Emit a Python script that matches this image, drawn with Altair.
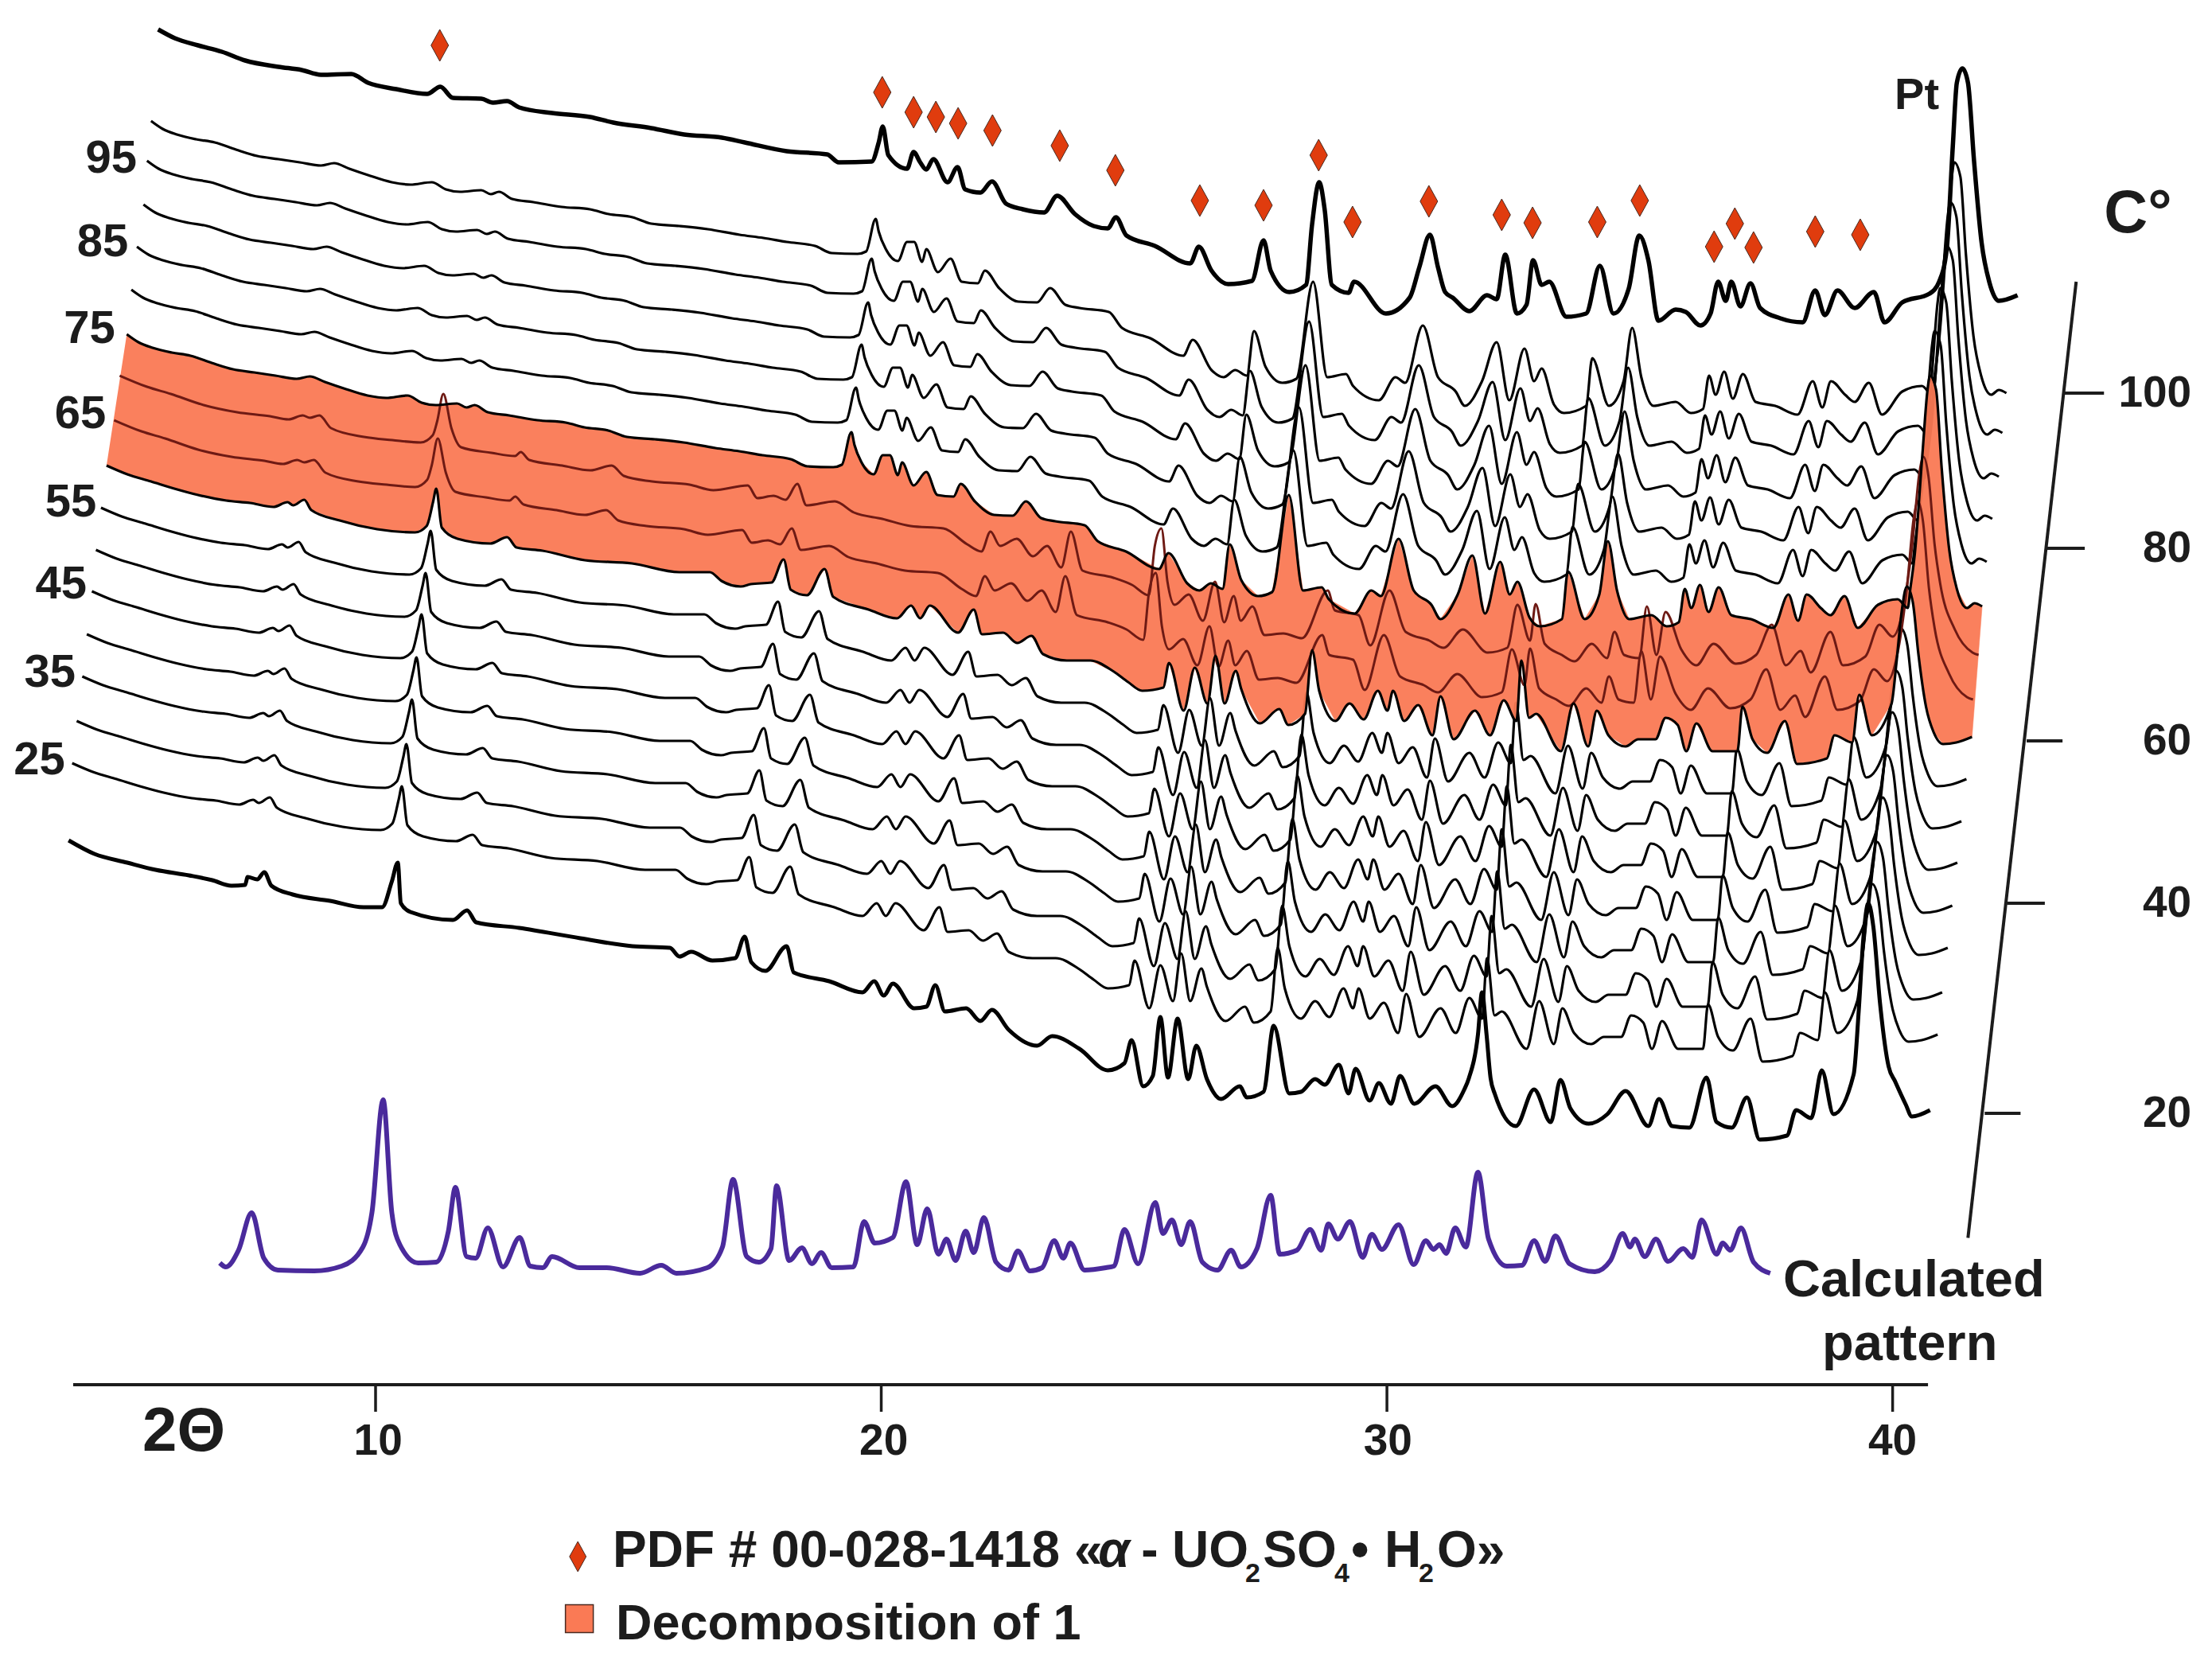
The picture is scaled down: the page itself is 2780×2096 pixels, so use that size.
import pandas as pd
import altair as alt

# Waterfall of powder patterns: x is 2-theta, y is intensity with the stacking offset already in it

# top pattern (bold)
top_theta = [5.70,6.03,6.49,6.96,7.42,8.08,8.54,8.92,9.52,9.85,10.41,11.02,11.28,11.53,12.09,12.32,12.60,12.84,13.49,14.24,14.70,15.45,16.10,16.85,17.30,18.13,18.93,19.16,19.81,19.95,20.03,20.14,20.51,20.64,20.77,20.89,21.03,21.31,21.51,21.66,21.96,22.19,22.47,22.80,23.22,23.48,23.83,24.20,24.48,24.64,24.85,25.41,26.11,26.28,26.53,26.86,27.33,27.56,27.70,28.07,28.40,28.52,28.66,28.77,28.91,29.24,29.35,29.98,30.45,30.64,30.85,31.01,31.15,31.30,31.63,31.98,32.17,32.34,32.57,32.76,32.89,33.06,33.21,33.55,33.94,34.21,34.48,34.78,34.99,35.17,35.37,35.71,35.91,36.20,36.40,36.55,36.70,36.81,36.99,37.19,37.38,37.78,38.22,38.47,38.66,38.91,39.25,39.63,39.84,40.19,40.73,40.92,41.07,41.19,41.27,41.38,41.49,41.61,41.76,41.91,42.10,42.47]
top_height = [1703,1692,1683,1675,1664,1656,1652,1646,1647,1636,1628,1622,1631,1617,1616,1611,1613,1605,1598,1593,1586,1579,1571,1567,1561,1550,1546,1536,1537,1561,1581,1545,1528,1549,1536,1527,1540,1511,1530,1502,1498,1512,1484,1477,1473,1494,1471,1456,1453,1467,1444,1431,1409,1430,1400,1383,1387,1438,1400,1373,1382,1458,1511,1476,1382,1372,1386,1346,1366,1404,1445,1404,1373,1366,1349,1369,1364,1420,1346,1357,1413,1382,1386,1342,1346,1406,1346,1377,1444,1413,1337,1351,1348,1331,1346,1386,1362,1386,1355,1384,1353,1340,1335,1375,1344,1375,1353,1373,1335,1360,1371,1386,1427,1556,1636,1654,1636,1538,1435,1386,1362,1369]

# high temperature shape
high_theta = [5.56,5.79,6.07,6.45,6.82,7.24,7.66,8.08,8.50,8.92,9.18,9.48,9.85,10.32,10.69,11.11,11.39,11.67,12.09,12.28,12.44,12.70,13.12,13.68,14.24,14.61,15.08,15.45,16.01,16.57,17.20,17.67,18.13,18.69,19.02,19.53,19.70,19.89,19.95,20.09,20.33,20.51,20.65,20.81,20.89,21.12,21.37,21.59,21.91,22.05,22.33,22.71,23.08,23.34,23.64,23.92,24.50,24.76,25.32,25.97,26.16,26.53,26.77,27.00,27.23,27.37,27.60,27.93,28.21,28.54,28.82,29.19,29.33,29.84,30.17,30.36,30.71,31.01,31.36,31.54,31.88,32.17,32.42,32.72,32.91,33.06,33.30,33.50,33.94,34.06,34.39,34.68,34.85,35.03,35.27,35.71,36.01,36.25,36.37,36.50,36.67,36.84,37.04,37.29,37.68,38.12,38.42,38.61,38.78,39.06,39.25,39.53,39.79,40.19,40.58,40.78,40.83,40.92,41.07,41.17,41.22,41.34,41.45,41.60,41.75,41.95,42.10,42.25]
high_height = [1588,1578,1571,1565,1561,1552,1544,1540,1536,1532,1535,1528,1520,1511,1508,1511,1502,1499,1501,1496,1499,1490,1486,1480,1477,1471,1467,1459,1456,1452,1445,1441,1436,1431,1422,1421,1424,1465,1449,1427,1412,1436,1436,1411,1427,1398,1415,1386,1384,1400,1378,1361,1360,1378,1357,1353,1348,1328,1315,1293,1313,1275,1266,1275,1268,1324,1279,1259,1264,1386,1266,1270,1255,1237,1266,1259,1331,1266,1248,1230,1261,1310,1237,1302,1261,1277,1232,1221,1230,1290,1230,1261,1328,1266,1230,1235,1221,1226,1268,1244,1273,1239,1270,1235,1230,1219,1261,1228,1261,1244,1235,1259,1219,1248,1255,1244,1268,1313,1438,1518,1536,1518,1420,1317,1268,1244,1250,1246]

# transition shape, the dark patterns inside the orange band
mid_theta = [4.83,5.37,5.84,6.49,7.15,7.80,8.17,8.45,8.59,8.78,9.01,9.66,10.22,10.78,11.02,11.11,11.23,11.39,11.58,12.18,12.65,12.76,12.93,13.58,14.14,14.56,14.80,15.36,16.10,16.57,17.25,17.44,17.76,18.00,18.23,18.41,18.97,19.35,19.91,20.47,21.12,21.59,21.87,22.05,22.24,22.57,22.89,23.17,23.45,23.64,23.87,24.48,24.85,25.18,25.30,25.43,25.55,25.69,25.97,26.25,26.49,26.67,26.86,27.00,27.23,27.47,27.84,28.21,28.72,28.86,29.33,29.56,29.94,30.26,30.73,31.01,31.39,31.88,32.27,32.47,32.72,32.83,33.01,33.35,33.60,33.94,34.24,34.39,34.58,34.88,35.03,35.22,35.40,35.71,36.01,36.35,36.79,37.19,37.50,37.78,38.07,38.27,38.66,38.91,39.35,39.63,39.89,40.10,40.28,40.42,40.50,40.60,40.72,40.83,41.12,41.47,41.59]
mid_height = [1212,1198,1189,1175,1166,1161,1157,1162,1159,1162,1146,1135,1131,1128,1137,1155,1189,1146,1122,1115,1111,1116,1106,1099,1093,1099,1086,1079,1075,1068,1074,1058,1061,1056,1076,1049,1054,1040,1032,1023,1020,1000,991,1016,998,1007,985,998,971,1016,967,958,949,936,998,1020,953,924,937,904,953,902,935,904,922,886,888,882,942,917,911,873,942,890,879,870,893,864,870,924,879,925,875,861,853,875,857,890,861,857,922,861,915,868,848,875,850,861,899,848,866,839,890,848,859,899,884,920,1000,1090,1110,1085,1000,951,893,864,861]

# low temperature shape
low_theta = [4.00,4.41,4.88,5.34,5.81,6.37,6.84,7.30,7.58,7.69,7.91,8.05,8.61,9.35,10.10,10.33,10.46,10.52,10.63,10.94,11.59,11.92,12.11,12.62,13.46,14.39,15.33,15.93,16.16,16.54,16.74,17.15,17.39,17.53,17.85,18.20,18.37,19.07,19.63,19.91,20.09,20.28,20.84,21.15,21.31,21.73,22.01,22.29,22.52,22.99,23.45,23.92,24.20,24.48,24.90,25.01,25.30,25.52,25.77,25.93,26.11,26.33,26.44,26.81,27.19,27.37,27.70,27.84,27.98,28.30,28.58,28.86,29.14,29.33,29.44,29.66,29.94,30.22,30.38,30.64,31.06,31.36,31.63,31.88,31.98,32.13,32.27,32.76,33.01,33.30,33.47,33.70,34.04,34.29,34.63,34.83,35.07,35.24,35.44,35.76,36.25,36.35,36.55,36.84,37.19,37.43,38.02,38.17,38.52,38.66,38.91,39.30,39.40,39.50,39.60,39.72,39.83,39.98,40.13,40.32,40.58,40.89]
low_height = [781,770,761,752,744,737,734,729,735,731,738,725,712,701,697,705,736,752,703,689,683,691,678,674,662,658,647,647,636,629,632,634,663,625,618,651,616,600,589,605,589,605,571,600,569,571,558,567,544,536,536,522,509,498,502,533,473,527,482,542,482,523,500,457,475,455,469,549,498,460,482,462,498,473,498,460,480,442,491,437,473,442,486,460,536,464,469,422,482,428,473,442,428,437,437,464,455,422,457,422,422,478,437,420,460,406,413,442,433,493,442,482,536,598,629,609,544,478,446,431,433,440]

# bottom pattern (bold)
base_theta = [3.93,4.44,5.09,5.65,6.31,6.77,7.15,7.42,7.47,7.66,7.80,7.94,8.36,9.10,9.76,10.13,10.32,10.44,10.50,10.69,11.53,11.81,11.99,12.84,14.05,15.08,15.82,16.01,16.24,16.66,17.11,17.30,17.43,17.71,18.13,18.27,18.97,19.63,19.86,20.05,20.23,20.65,20.89,21.07,21.26,21.68,21.96,22.19,22.52,23.08,23.38,23.92,24.48,24.81,24.95,25.18,25.37,25.52,25.67,25.86,26.07,26.23,26.44,26.72,27.09,27.23,27.56,27.76,28.07,28.30,28.58,28.77,29.05,29.24,29.38,29.66,29.84,30.08,30.26,30.54,30.96,31.29,31.53,31.62,31.80,31.88,31.97,32.05,32.13,32.55,32.91,33.24,33.43,33.63,33.99,34.36,34.72,35.17,35.38,35.64,35.98,36.32,36.52,36.82,37.12,37.37,37.91,38.09,38.39,38.60,38.83,39.23,39.33,39.42,39.52,39.62,39.75,39.92,40.05,40.26,40.38,40.74]
base_height = [684,667,656,647,640,634,627,628,638,635,644,627,616,608,600,600,632,656,605,594,584,596,581,574,561,551,549,538,544,533,536,563,531,520,551,518,507,493,507,489,504,473,475,502,469,473,457,471,446,426,438,422,395,404,433,375,388,462,386,460,384,426,384,359,375,361,368,451,366,368,384,377,402,366,397,357,379,353,388,353,375,350,371,385,440,493,440,385,366,325,371,330,383,347,328,340,369,325,359,325,323,386,330,323,361,308,313,345,335,395,340,390,470,560,605,575,480,400,381,352,337,345]

# calculated pattern (purple)
calc_theta = [6.92,7.04,7.29,7.55,7.79,8.07,8.79,9.33,9.75,9.93,10.15,10.32,10.48,10.84,11.20,11.44,11.58,11.80,11.98,12.22,12.52,12.85,13.06,13.31,13.49,14.03,14.57,15.23,15.65,15.95,16.56,16.86,17.07,17.34,17.58,17.82,17.93,18.18,18.43,18.63,18.81,19.02,19.45,19.66,19.87,20.23,20.49,20.71,20.91,21.13,21.29,21.47,21.67,21.83,22.03,22.27,22.52,22.70,22.94,23.18,23.42,23.60,23.74,24.02,24.44,24.60,24.81,25.08,25.42,25.57,25.75,25.93,26.11,26.35,26.65,26.92,27.11,27.43,27.70,27.88,28.22,28.48,28.70,28.84,29.03,29.27,29.52,29.70,29.90,30.23,30.53,30.77,30.92,31.04,31.17,31.35,31.56,31.80,32.01,32.37,32.67,32.91,33.13,33.33,33.61,34.11,34.42,34.66,34.81,34.90,35.10,35.32,35.56,35.86,36.04,36.22,36.52,36.64,36.79,37.00,37.25,37.58]
calc_height = [153,148,169,216,159,144,143,149,173,217,358,217,176,153,154,193,248,161,159,197,148,185,149,147,161,147,147,140,150,140,147,173,258,161,154,171,250,156,172,152,166,147,148,205,178,185,255,176,221,164,183,156,193,166,210,154,144,168,143,147,181,159,178,144,147,149,195,152,229,190,207,176,205,154,144,169,148,171,238,164,169,195,169,202,183,205,160,189,170,201,151,181,170,176,165,197,173,267,183,149,150,181,155,187,152,142,156,190,173,183,161,183,155,171,160,207,164,178,169,197,154,140]

# how far each stacked pattern sits from the shape it was read from
high_shift = [0.00,-0.08,-0.15,-0.28,-0.39,-0.48]
high_lift = [0,-50,-105,-158,-212,-268]
mid_shift = [0.11,0.00]
mid_lift = [56,0]
low_shift = [0.68,0.57,0.47,0.39,0.29,0.20,0.09,0.00]
low_lift = [374,321,268,216,162,109,53,0]

# reflections of the reference phase
marker_theta = [11.27,20.02,20.64,21.08,21.52,22.20,23.53,24.63,26.30,27.56,28.65,29.32,30.83,32.27,32.88,34.16,35.00,36.47,36.88,37.25,38.47,39.36]
marker_height = [1683,1624,1599,1593,1585,1576,1557,1526,1488,1482,1545,1461,1487,1470,1460,1461,1488,1430,1459,1429,1449,1445]

# temperature labels on the left
left_labels = ["95","85","75","65","55","45","35","25"]
left_theta = [5.28,5.11,4.85,4.67,4.48,4.29,4.07,3.86]
left_height = [1540,1435,1326,1219,1108,1005,894,784]

# temperature axis on the right
temp_labels = ["100","80","60","40","20"]
temp_from = [43.39,43.05,42.65,42.26,41.82]
temp_to = [44.18,43.80,43.36,43.01,42.53]
temp_height = [1246,1051,809,605,341]

theta_ticks = [10,20,30,40]

INK = "#000000"
TEXT = "#1c1c1c"
ORANGE = "#FA7A55"
DARK_RED = "#6E1A14"
PURPLE = "#4A2A9C"
DIAMOND_RED = "#E03C0E"
FONT = "Liberation Sans"
DIAMOND = "M0,-1L0.55,0L0,1L-0.55,0Z"


def pattern(name, theta, height, shift=0.0, lift=0):
    return pd.DataFrame({
        "name": name,
        "idx": range(len(theta)),
        "theta": [t + shift for t in theta],
        "height": [h + lift for h in height],
    })


highs = [pattern(f"h{i}", high_theta, high_height, s, l)
         for i, (s, l) in enumerate(zip(high_shift, high_lift))]
mids = [pattern(f"m{i}", mid_theta, mid_height, s, l)
        for i, (s, l) in enumerate(zip(mid_shift, mid_lift))]
lows = [pattern(f"l{i}", low_theta, low_height, s, l)
        for i, (s, l) in enumerate(zip(low_shift, low_lift))]

x_scale = alt.Scale(domain=[2.699, 46.19], nice=False, zero=False)
y_scale = alt.Scale(domain=[-348, 1732], nice=False, zero=False)
x_enc = alt.X("theta:Q", scale=x_scale, axis=None)
y_enc = alt.Y("height:Q", scale=y_scale, axis=None)


def line_layer(frame, color, width):
    return alt.Chart(frame).mark_line(
        color=color, strokeWidth=width, strokeJoin="round", interpolate="monotone"
    ).encode(x=x_enc, y=y_enc, detail="name:N", order="idx:Q")


def label_layer(texts, theta, height, size, align="center", baseline="middle", style="normal"):
    frame = pd.DataFrame({"label": texts, "theta": theta, "height": height})
    return alt.Chart(frame).mark_text(
        font=FONT, fontSize=size, fontWeight="bold", fontStyle=style, color=TEXT,
        align=align, baseline=baseline
    ).encode(x=x_enc, y=y_enc, text="label:N")


def rule_layer(x1, x2, y1, y2, width, color=TEXT):
    frame = pd.DataFrame({"theta": x1, "theta2": x2, "height": y1, "height2": y2})
    return alt.Chart(frame).mark_rule(color=color, strokeWidth=width).encode(
        x=x_enc, x2="theta2:Q", y=y_enc, y2="height2:Q")


# orange band runs along the hottest and coolest patterns of the decomposition range
band_top = highs[5].assign(name="band", idx=range(len(high_theta)))
band_low = lows[0].iloc[::-1].assign(name="band", idx=range(len(high_theta), len(high_theta) + len(low_theta)))
band = pd.concat([band_top, band_low])
band_layer = alt.Chart(band).mark_line(fill=ORANGE, color=ORANGE, strokeWidth=0.5, opacity=0.95).encode(
    x=x_enc, y=y_enc, detail="name:N", order="idx:Q")

markers = alt.Chart(pd.DataFrame({"theta": marker_theta, "height": marker_height})).mark_point(
    shape=DIAMOND, size=1600, filled=True, fill=DIAMOND_RED, stroke="#4a2a20", strokeWidth=1, opacity=1
).encode(x=x_enc, y=y_enc)

legend_diamond = alt.Chart(pd.DataFrame({"theta": [14.0], "height": [-216]})).mark_point(
    shape=DIAMOND, size=1440, filled=True, fill=DIAMOND_RED, stroke="#4a2a20", strokeWidth=1, opacity=1
).encode(x=x_enc, y=y_enc)
legend_square = alt.Chart(pd.DataFrame({"theta": [14.03], "height": [-294]})).mark_point(
    shape="square", size=1225, filled=True, fill=ORANGE, stroke="#4a2a20", strokeWidth=1.5, opacity=1
).encode(x=x_enc, y=y_enc)

# image is cut just under the legend
crop = alt.Chart(pd.DataFrame({"theta": [2.699], "theta2": [46.19], "height": [-322], "height2": [-348]})).mark_rect(
    color="#ffffff").encode(x=x_enc, x2="theta2:Q", y=y_enc, y2="height2:Q")

chart = alt.layer(
    line_layer(pd.concat(lows[1:]), INK, 3.2),
    line_layer(pattern("base", base_theta, base_height), INK, 5),
    line_layer(pd.concat(highs[:5]), INK, 3.2),
    band_layer,
    line_layer(pd.concat(mids), DARK_RED, 3),
    line_layer(pd.concat([highs[5], lows[0]]), INK, 3.2),
    line_layer(pattern("top", top_theta, top_height), INK, 5.5),
    line_layer(pattern("calc", calc_theta, calc_height), PURPLE, 6),
    markers,
    # 2-theta axis
    rule_layer([4.02], [40.70], [0], [0], 4),
    rule_layer(theta_ticks, theta_ticks, [0] * 4, [-34] * 4, 3.5),
    label_layer([str(t) for t in theta_ticks], [10.05, 20.05, 30.02, 40.0], [-71] * 4, 55),
    label_layer(["2Θ"], [5.39], [-60], 78, align="left"),
    # temperature axis
    rule_layer([43.63], [41.49], [1386], [184.5], 4),
    rule_layer(temp_from, temp_to, temp_height, temp_height, 4),
    label_layer(temp_labels, [45.91] * 5, temp_height, 55, align="right"),
    label_layer(left_labels, left_theta, left_height, 58, align="right"),
    label_layer(["Pt"], [40.48], [1620], 56),
    label_layer(["C°"], [44.18], [1471], 76, align="left"),
    label_layer(["Calculated"], [40.42], [111], 65, baseline="alphabetic"),
    label_layer(["pattern"], [40.34], [31], 65, baseline="alphabetic"),
    # legend
    legend_diamond,
    legend_square,
    label_layer(["PDF # 00-028-1418 «", "- ", "UO", "SO", "•", "H", "O»"],
                [14.69, 25.14, 25.75, 27.55, 29.29, 29.95, 30.99], [-229] * 7, 64,
                align="left", baseline="alphabetic"),
    label_layer(["α"], [24.29], [-229], 64, align="left", baseline="alphabetic", style="italic"),
    label_layer(["2", "4", "2"], [27.20, 28.96, 30.63], [-248] * 3, 34, align="left", baseline="alphabetic"),
    label_layer(["Decomposition of 1"], [14.75], [-320], 63, align="left", baseline="alphabetic"),
    crop,
).properties(width=2764, height=2080, padding=0, background="#ffffff").configure_view(stroke=None)

chart.save("out.html", embed_options={"renderer": "svg", "actions": False})
